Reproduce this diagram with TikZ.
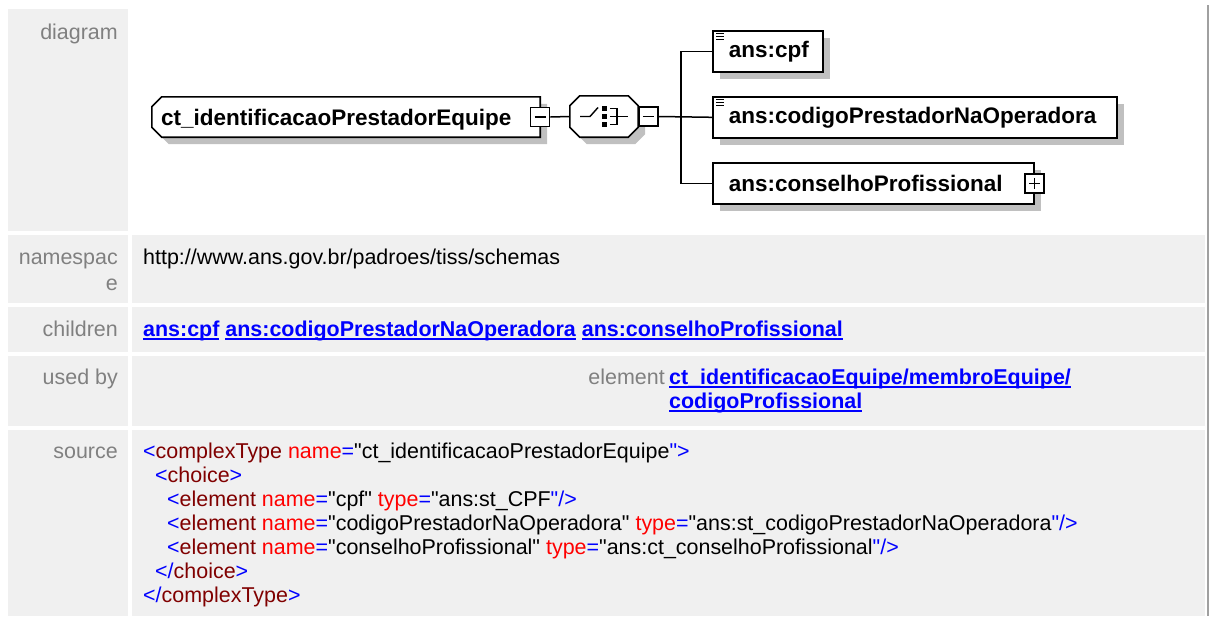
\documentclass[tikz,border=0pt]{standalone}
\usepackage{fontspec}
\setmainfont{Liberation Sans}[Ligatures=TeXOff]
\usetikzlibrary{shadows}

\definecolor{cellgrey}{HTML}{F0F0F0}
\definecolor{labelgrey}{HTML}{808080}
\definecolor{linkblue}{HTML}{0000FF}
\definecolor{tagred}{HTML}{800000}
\definecolor{attrred}{HTML}{FF0000}
\definecolor{shadowgrey}{HTML}{C0C0C0}
\definecolor{edgegrey}{HTML}{A0A0A0}

\newcommand\tabfont{\fontsize{21.45}{24}\selectfont}
\newcommand\boxfont{\fontsize{22.5}{26}\selectfont\bfseries}
\newcommand\lnk[1]{{\color{linkblue}\bfseries\setbox0\hbox{#1}\rlap{\rule[-3.5pt]{\wd0}{1.6pt}}\box0}}
\newcommand\xb[1]{\textcolor{linkblue}{#1}}
\newcommand\xt[1]{\textcolor{tagred}{#1}}
\newcommand\xa[1]{\textcolor{attrred}{#1}}
\newcommand\simpicon[1]{\foreach \k in {3,6,9}{\draw[line width=0.8pt] ([shift={(4pt,-\k pt)}]#1.north west) -- ++(8,0);}}

\begin{document}
\begin{tikzpicture}[x=1pt,y=-1pt,
    every node/.style={inner sep=0pt, font=\tabfont},
    lbl/.style={anchor=base east, text=labelgrey, align=right},
    txt/.style={anchor=base west, align=left},
    shade7/.style={drop shadow={shadow xshift=7pt, shadow yshift=-7pt, fill=shadowgrey, opacity=1}},
    boxline/.style={draw, line width=1.6pt, fill=white},
    elem/.style={boxline, minimum height=41pt, inner xsep=16pt, align=left, font=\boxfont, shade7},
    pm/.style={draw, line width=1.4pt, fill=white, minimum size=19pt},
    minus/.style={pm, path picture={\draw[line width=1.2pt]
        ([xshift=4pt]path picture bounding box.west) -- ([xshift=-4pt]path picture bounding box.east);}},
    plus/.style={pm, path picture={\draw[line width=1.2pt]
        ([xshift=4pt]path picture bounding box.west) -- ([xshift=-4pt]path picture bounding box.east)
        ([yshift=-4pt]path picture bounding box.north) -- ([yshift=4pt]path picture bounding box.south);}},
    conn/.style={line width=1.5pt}]
\useasboundingbox (0,0) rectangle (1215,616);

% table cells
\fill[cellgrey] (8,9) rectangle (128,231);
\foreach \ya/\yb in {235/303,307/352,356/426,430/616}{
  \fill[cellgrey] (8,\ya) rectangle (128,\yb);
  \fill[cellgrey] (132,\ya) rectangle (1205,\yb);
}
\draw[edgegrey, line width=2pt] (1208,5) -- (1208,616);

% row labels
\node[lbl] (lbdia) at (118,39) {diagram};
\node[lbl, font=\fontsize{21.45}{26}\selectfont] (lbns) at (118,290) {namespac\\e};
\node[lbl] (lbch) at (118,336) {children};
\node[lbl] (lbub) at (118,384) {used by};
\node[lbl] (lbsrc) at (118,458) {source};

% diagram
\node[minimum width=388pt, minimum height=40pt] (root) at (346,117) {};
\filldraw[boxline, shade7] ([xshift=10pt]root.north west) -- (root.north east) -- (root.south east)
  -- ([xshift=10pt]root.south west) -- ([yshift=10pt]root.south west) -- ([yshift=-10pt]root.north west) -- cycle;
\node[anchor=base west, font=\boxfont] (roottxt) at (161,125) {ct\_identificacaoPrestadorEquipe};
\node[minus] (rootpm) at (root.east) {};

\node[minimum width=68pt, minimum height=41pt] (chc) at (604,116.5) {};
\filldraw[boxline, shade7] ([xshift=10pt]chc.north west) -- ([xshift=-10pt]chc.north east)
  -- ([yshift=-10pt]chc.north east) -- ([yshift=10pt]chc.south east) -- ([xshift=-10pt]chc.south east)
  -- ([xshift=10pt]chc.south west) -- ([yshift=10pt]chc.south west) -- ([yshift=-10pt]chc.north west) -- cycle;
\node[minus, anchor=west] (chcpm) at (chc.east) {};

\node[elem, text width=78pt, anchor=north west] (cpf) at (712,30) {ans:cpf};
\node[elem, text width=372pt, anchor=north west] (cod) at (712,96) {ans:codigoPrestadorNaOperadora};
\node[elem, text width=289pt, anchor=north west] (cons) at (712,162) {ans:conselhoProfissional};
\node[plus] (conspm) at (cons.east) {};
\simpicon{cpf}
\simpicon{cod}

% choice icon
\draw[line width=1.4pt] ([xshift=-24pt]chc.center) -- ++(10,0) -- ++(8,-9);
\foreach \d in {-8,0,8}
  \fill ([shift={(-2pt,2.5pt-\d pt)}]chc.center) rectangle ++(5,5);
\draw[line width=1.4pt] ([shift={(6pt,8pt)}]chc.center) -- ++(7,0) -- ++(0,16) -- ++(-7,0)
  ([xshift=6pt]chc.center) -- ++(18,0);

\coordinate (bus) at (681,116.5);
\draw[conn] (rootpm.east) -- (chc.west);
\draw[conn] (chcpm.east) -- (cod.west);
\draw[conn] (cpf.west) -| (bus) |- (cons.west);

% table contents
\node[txt] (ns) at (143,264) {http://www.ans.gov.br/padroes/tiss/schemas};
\node[txt] (ch) at (143,336) {\lnk{ans:cpf} \lnk{ans:codigoPrestadorNaOperadora} \lnk{ans:conselhoProfissional}};
\node[lbl] (ubel) at (665,384) {element};
\node[txt] (ubref) at (669,408) {\lnk{ct\_identificacaoEquipe/membroEquipe/}\\\lnk{codigoProfissional}};
\node[txt] (src) at (143,602) {%
\xb{<}\xt{complexType} \xa{name}\xb{=}"ct\_identificacaoPrestadorEquipe\xb{">}\\
\hspace*{12pt}\xb{<}\xt{choice}\xb{>}\\
\hspace*{24pt}\xb{<}\xt{element} \xa{name}\xb{=}"cpf" \xa{type}\xb{=}"ans:st\_CPF\xb{"/>}\\
\hspace*{24pt}\xb{<}\xt{element} \xa{name}\xb{=}"codigoPrestadorNaOperadora" \xa{type}\xb{=}"ans:st\_codigoPrestadorNaOperadora\xb{"/>}\\
\hspace*{24pt}\xb{<}\xt{element} \xa{name}\xb{=}"conselhoProfissional" \xa{type}\xb{=}"ans:ct\_conselhoProfissional\xb{"/>}\\
\hspace*{12pt}\xb{</}\xt{choice}\xb{>}\\
\xb{</}\xt{complexType}\xb{>}};
\end{tikzpicture}
\end{document}
